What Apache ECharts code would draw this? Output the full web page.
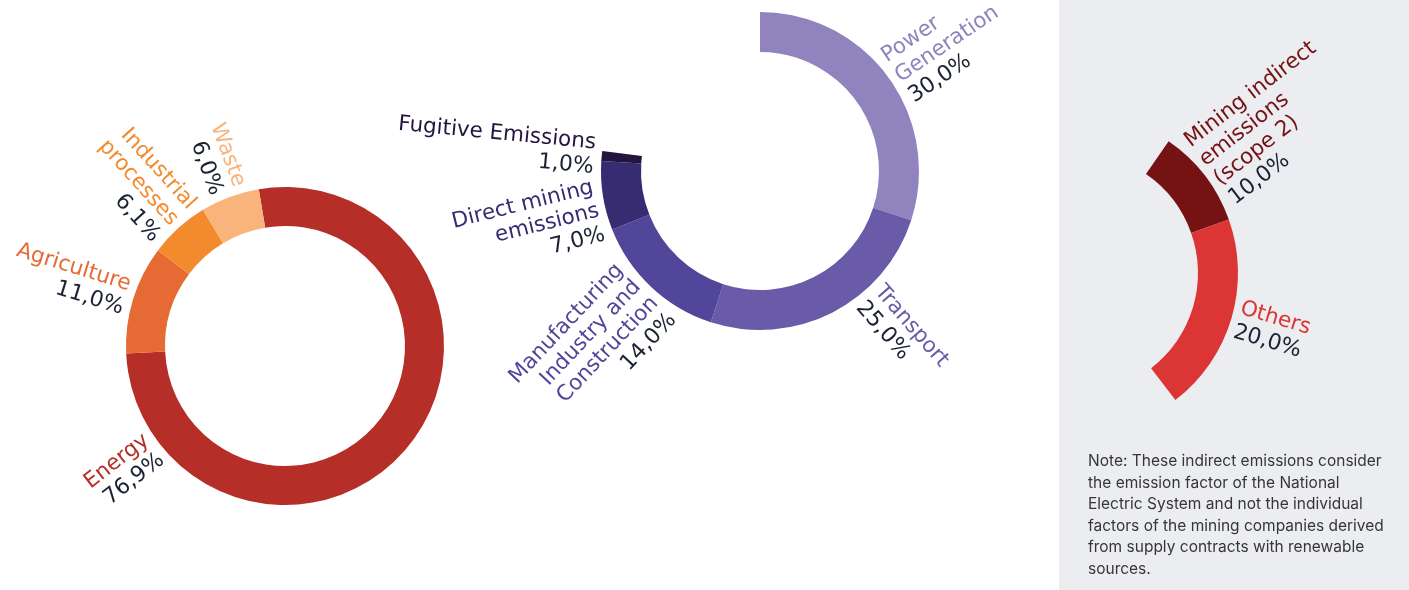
<!DOCTYPE html>
<html><head><meta charset="utf-8">
<script src="https://cdn.jsdelivr.net/npm/echarts@6/dist/echarts.min.js"></script>
<style>html,body{margin:0;padding:0;background:#fff}#c{width:1409px;height:590px}</style>
</head><body><div id="c"></div>
<script>
// ---- data ----
const totalCategories = ['Energy', 'Agriculture', 'Industrial\nprocesses', 'Waste'];
const totalValues = [76.9, 11.0, 6.1, 6.0];
const totalColors = ['#b52f28', '#e66a33', '#f38b2e', '#f9b47b'];

const energyCategories = ['Power\nGeneration', 'Transport', 'Manufacturing\nIndustry and\nConstruction', 'Direct mining\nemissions', 'Fugitive Emissions'];
const energyValues = [30.0, 25.0, 14.0, 7.0, 1.0];
const energyColors = ['#9184be', '#6a5ba8', '#52469b', '#372b72', '#24153f'];

const indirectCategories = ['Mining indirect\nemissions\n(scope 2)', 'Others'];
const indirectValues = [10.0, 20.0];
const indirectColors = ['#741214', '#db3535'];

const noteLines = [
  'Note: These indirect emissions consider',
  'the emission factor of the National',
  'Electric System and not the individual',
  'factors of the mining companies derived',
  'from supply contracts with renewable',
  'sources.'
];

// ---- layout (angles clockwise from 12 o'clock) ----
const FONT = '"DejaVu Sans", sans-serif';
const PCT_COLOR = '#1b2233';
const donuts = [
  { cats: totalCategories, vals: totalValues, colors: totalColors, center: [285, 346], radius: [120, 159], startTheta: -9.5, labelAngles: [232, null, null, null], labelR: 166 },
  { cats: energyCategories, vals: energyValues, colors: energyColors, center: [760, 171], radius: [119, 159], startTheta: 0, labelAngles: [56, 139, null, 256, null], labelR: 166 },
  { cats: indirectCategories, vals: indirectValues, colors: indirectColors, center: [1078, 273], radius: [120, 160], startTheta: 34.5, labelAngles: [null, null], labelR: 166 }
];

function fmt(v) { return v.toFixed(1).replace('.', ',') + '%'; }

function makeLabelLayout(d) {
  const mids = []; let cum = 0;
  d.vals.forEach(function (v) { mids.push(d.startTheta + (cum + v / 2) * 3.6); cum += v; });
  return function (p) {
    const i = p.dataIndex;
    if (i >= d.vals.length) return {};
    let th = d.labelAngles[i] != null ? d.labelAngles[i] : mids[i];
    th = ((th % 360) + 360) % 360;
    const rad = th * Math.PI / 180;
    const right = Math.sin(rad) >= 0;
    return {
      x: d.center[0] + d.labelR * Math.sin(rad),
      y: d.center[1] - d.labelR * Math.cos(rad),
      rotate: right ? 90 - th : 270 - th,
      align: right ? 'left' : 'right',
      verticalAlign: 'middle'
    };
  };
}

const series = donuts.map(function (d) {
  const sum = d.vals.reduce(function (a, b) { return a + b; }, 0);
  const data = d.cats.map(function (c, i) {
    return {
      name: c, value: d.vals[i],
      itemStyle: { color: d.colors[i] },
      label: { color: d.colors[i] }
    };
  });
  if (sum < 99.95) {
    data.push({ name: '', value: 100 - sum, itemStyle: { color: 'rgba(0,0,0,0)' }, label: { show: false }, labelLine: { show: false } });
  }
  return {
    type: 'pie',
    center: d.center,
    radius: d.radius,
    startAngle: 90 - d.startTheta,
    clockwise: true,
    avoidLabelOverlap: false,
    silent: true,
    emphasis: { disabled: true },
    labelLine: { show: false },
    label: {
      show: true,
      position: 'outside',
      fontFamily: FONT,
      formatter: function (p) { return '{n|' + p.name + '}\n{p|' + fmt(p.value) + '}'; },
      rich: {
        n: { fontFamily: FONT, fontSize: 21.5, lineHeight: 24 },
        p: { fontFamily: FONT, fontSize: 22, lineHeight: 25, color: PCT_COLOR }
      }
    },
    labelLayout: makeLabelLayout(d),
    data: data
  };
});

const chart = echarts.init(document.getElementById('c'), null, { renderer: 'canvas' });
chart.setOption({
  animation: false,
  backgroundColor: '#ffffff',
  graphic: [
    { type: 'rect', z: -100, silent: true, shape: { x: 1059, y: 0, width: 350, height: 590 }, style: { fill: '#ecedf0' } },
    { type: 'text', z: 10, silent: true, x: 1088, y: 451,
      style: { text: noteLines.join('\n'), font: '15.5px Inter, sans-serif', lineHeight: 21.5, fill: '#363636', verticalAlign: 'top', align: 'left' } }
  ],
  series: series
});
</script>
</body></html>
